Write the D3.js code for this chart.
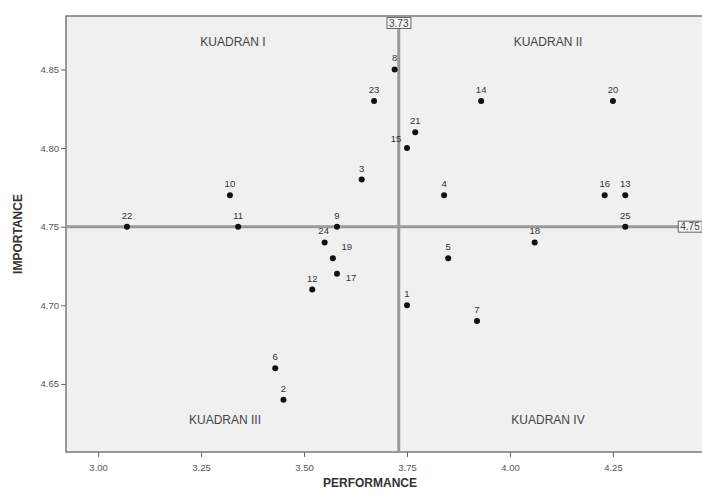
<!DOCTYPE html>
<html>
<head>
<meta charset="utf-8">
<script src="https://cdn.jsdelivr.net/npm/d3@7"></script>
<style>
  html, body { margin: 0; padding: 0; background: #fff; }
  svg { display: block; font-family: Arial, "Liberation Sans", sans-serif; }
</style>
</head>
<body>
<svg id="chart" width="702" height="493"></svg>
<script>
// ---- Data ----
const ids         = [1, 2, 3, 4, 5, 6, 7, 8, 9, 10, 11, 12, 13, 14, 15, 16, 17, 18, 19, 20, 21, 22, 23, 24, 25];
const performance = [3.75, 3.45, 3.64, 3.84, 3.85, 3.43, 3.92, 3.72, 3.58, 3.32, 3.34, 3.52, 4.28, 3.93, 3.75, 4.23, 3.58, 4.06, 3.57, 4.25, 3.77, 3.07, 3.67, 3.55, 4.28];
const importance  = [4.70, 4.64, 4.78, 4.77, 4.73, 4.66, 4.69, 4.85, 4.75, 4.77, 4.75, 4.71, 4.77, 4.83, 4.80, 4.77, 4.72, 4.74, 4.73, 4.83, 4.81, 4.75, 4.83, 4.74, 4.75];
const xTicks = [3.00, 3.25, 3.50, 3.75, 4.00, 4.25];
const yTicks = [4.65, 4.70, 4.75, 4.80, 4.85];
const meanPerformance = 3.73;
const meanImportance = 4.75;
const quadrantLabels = ["KUADRAN I", "KUADRAN II", "KUADRAN III", "KUADRAN IV"];
// label placement relative to marker (default: above)
const labelSide = { 15: "left", 19: "right", 17: "belowright", 24: "aboveleft" };

// ---- Layout ----
const svg = d3.select("#chart");
const pL = 66, pT = 16, pR = 706, pB = 452;

const x = d3.scaleLinear().domain([2.922, 4.476]).range([pL, pR]);
const y = d3.scaleLinear().domain([4.6067, 4.884]).range([pB, pT]);

// plot background
svg.append("rect")
  .attr("x", pL).attr("y", pT)
  .attr("width", pR - pL).attr("height", pB - pT)
  .attr("fill", "#f0f0f0")
  .attr("stroke", "#7a7a7a").attr("stroke-width", 1.5);

// axes
const xAxis = svg.append("g")
  .attr("transform", `translate(0,${pB})`)
  .call(d3.axisBottom(x).tickValues(xTicks).tickFormat(d3.format(".2f")).tickSizeOuter(0).tickSize(5));
const yAxis = svg.append("g")
  .attr("transform", `translate(${pL},0)`)
  .call(d3.axisLeft(y).tickValues(yTicks).tickFormat(d3.format(".2f")).tickSizeOuter(0).tickSize(5));
[xAxis, yAxis].forEach(g => {
  g.select(".domain").remove();
  g.selectAll(".tick line").attr("stroke", "#666");
  g.selectAll(".tick text").attr("fill", "#555").style("font-size", "9.5px")
    .style("font-family", "Arial, 'Liberation Sans', sans-serif");
});
xAxis.selectAll(".tick text").attr("dy", "1.2em");
yAxis.selectAll(".tick text").attr("x", -7);

// reference lines
svg.append("line")
  .attr("x1", x(meanPerformance)).attr("x2", x(meanPerformance))
  .attr("y1", pT).attr("y2", pB)
  .attr("stroke", "#9a9a9a").attr("stroke-width", 3);
svg.append("line")
  .attr("x1", pL).attr("x2", pR)
  .attr("y1", y(meanImportance)).attr("y2", y(meanImportance))
  .attr("stroke", "#9a9a9a").attr("stroke-width", 3);

// reference line labels
function boxLabel(cx, cy, text) {
  const g = svg.append("g");
  const t = g.append("text").attr("x", cx).attr("y", cy)
    .attr("text-anchor", "middle").attr("dominant-baseline", "central")
    .style("font-size", "10px").attr("fill", "#444").text(text);
  const bb = t.node().getBBox();
  g.insert("rect", "text")
    .attr("x", bb.x - 2).attr("y", bb.y)
    .attr("width", bb.width + 4).attr("height", bb.height)
    .attr("fill", "#f4f4f4").attr("stroke", "#666").attr("stroke-width", 1);
}
boxLabel(x(meanPerformance), pT + 7, d3.format(".2f")(meanPerformance));
boxLabel(690, y(meanImportance), d3.format(".2f")(meanImportance));

// quadrant labels
const qx = [233, 548, 225, 548], qy = [42, 42, 420, 420];
svg.selectAll(".quad").data(quadrantLabels).join("text")
  .attr("class", "quad")
  .attr("x", (d, i) => qx[i]).attr("y", (d, i) => qy[i])
  .attr("text-anchor", "middle").attr("dominant-baseline", "central")
  .style("font-size", "12px").attr("fill", "#444")
  .text(d => d);

// points
const data = ids.map((id, i) => ({ id, p: performance[i], imp: importance[i] }));
svg.selectAll(".pt").data(data).join("circle")
  .attr("class", "pt")
  .attr("cx", d => x(d.p)).attr("cy", d => y(d.imp))
  .attr("r", 3).attr("fill", "#111");

svg.selectAll(".lbl").data(data).join("text")
  .attr("class", "lbl")
  .attr("x", d => {
    const s = labelSide[d.id];
    if (s === "left") return x(d.p) - 11;
    if (s === "right") return x(d.p) + 14;
    if (s === "belowright") return x(d.p) + 14;
    if (s === "aboveleft") return x(d.p) - 1;
    return x(d.p);
  })
  .attr("y", d => {
    const s = labelSide[d.id];
    if (s === "left") return y(d.imp) - 6;
    if (s === "right") return y(d.imp) - 8;
    if (s === "belowright") return y(d.imp) + 7;
    return y(d.imp) - 8;
  })
  .attr("text-anchor", "middle")
  .style("font-size", "9.5px").attr("fill", "#333")
  .text(d => d.id);

// axis titles
svg.append("text")
  .attr("x", 370).attr("y", 487)
  .attr("text-anchor", "middle")
  .style("font-size", "12px").style("font-weight", "bold").attr("fill", "#333")
  .text("PERFORMANCE");
svg.append("text")
  .attr("transform", `translate(22,${(pT + pB) / 2}) rotate(-90)`)
  .attr("text-anchor", "middle")
  .style("font-size", "12px").style("font-weight", "bold").attr("fill", "#333")
  .text("IMPORTANCE");
</script>
</body>
</html>
